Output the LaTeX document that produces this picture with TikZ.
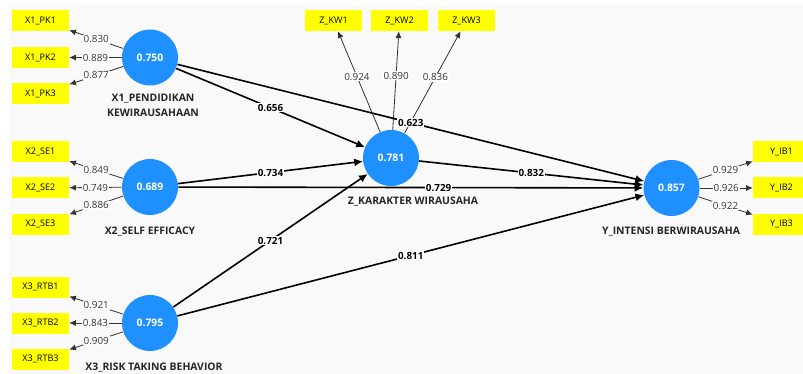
\documentclass[tikz,border=0pt]{standalone}
\usepackage{fontspec}
\setmainfont{Open Sans}
\usetikzlibrary{arrows.meta}
\definecolor{lvblue}{RGB}{30,144,255}
\definecolor{indyellow}{RGB}{255,255,0}
\definecolor{bggray}{RGB}{249,249,249}
\begin{document}
\begin{tikzpicture}[x=0.75pt,y=-0.75pt,
 latent/.style={circle,fill=lvblue,minimum size=42pt,inner sep=0pt,text=white,font=\fontsize{7.8}{8}\selectfont\bfseries},
 indbox/.style={rectangle,fill=indyellow,minimum width=42.75pt,minimum height=15.75pt,inner sep=0pt,font=\fontsize{6.8}{7}\selectfont},
 lvname/.style={font=\fontsize{7.8}{11.5}\selectfont\bfseries,align=center,text=black!85},
 loadarrow/.style={draw=black!80,line width=0.6pt,-{Latex[length=5pt,width=4.5pt]}},
 patharrow/.style={draw=black,line width=1.2pt,-{Latex[length=6.5pt,width=6pt]}},
 lload/.style={fill=white,inner sep=0.6pt,font=\fontsize{7.4}{8}\selectfont,text=black!80},
 lpath/.style={fill=white,inner sep=0.6pt,font=\fontsize{7.4}{8}\selectfont\bfseries}
]
\clip (0,0) rectangle (803,374);
\useasboundingbox (0,0) rectangle (803,374);
\fill[white] (0,0) rectangle (803,374);
\fill[bggray] (9,5) rectangle (803,374);

% latent variables
\node[latent] (x1) at (150,57.5) {0.750};
\node[latent] (x2) at (150,187) {0.689};
\node[latent] (x3) at (150,323) {0.795};
\node[latent] (z) at (391,158) {0.781};
\node[latent] (y) at (671.5,188) {0.857};

\node[lvname] (x1n) at (153,105.5) {X1\_PENDIDIKAN\\KEWIRAUSAHAAN};
\node[lvname] (x2n) at (150,232) {X2\_SELF EFFICACY};
\node[lvname] (x3n) at (154,368) {X3\_RISK TAKING BEHAVIOR};
\node[lvname] (zn) at (413,202) {Z\_KARAKTER WIRAUSAHA};
\node[lvname] (yn) at (671,232) {Y\_INTENSI BERWIRAUSAHA};

% indicators
\node[indbox] (pk1) at (40.5,20.5) {X1\_PK1};
\node[indbox] (pk2) at (40.5,57.5) {X1\_PK2};
\node[indbox] (pk3) at (40.5,94) {X1\_PK3};
\node[indbox] (se1) at (40.5,152) {X2\_SE1};
\node[indbox] (se2) at (40.5,188) {X2\_SE2};
\node[indbox] (se3) at (40.5,224) {X2\_SE3};
\node[indbox] (rtb1) at (40.5,287) {X3\_RTB1};
\node[indbox] (rtb2) at (40.5,323) {X3\_RTB2};
\node[indbox] (rtb3) at (40.5,359) {X3\_RTB3};
\node[indbox] (kw1) at (333.5,20.5) {Z\_KW1};
\node[indbox] (kw2) at (399.5,20.5) {Z\_KW2};
\node[indbox] (kw3) at (466.5,20.5) {Z\_KW3};
\node[indbox] (ib1) at (781.5,152) {Y\_IB1};
\node[indbox] (ib2) at (781.5,188) {Y\_IB2};
\node[indbox] (ib3) at (781.5,224) {Y\_IB3};

% outer loadings
\draw[loadarrow] (x1) -- node[lload,pos=0.5] {0.830} (pk1);
\draw[loadarrow] (x1) -- node[lload,pos=0.5] {0.889} (pk2);
\draw[loadarrow] (x1) -- node[lload,pos=0.5] {0.877} (pk3);
\draw[loadarrow] (x2) -- node[lload,pos=0.5] {0.849} (se1);
\draw[loadarrow] (x2) -- node[lload,pos=0.5] {0.749} (se2);
\draw[loadarrow] (x2) -- node[lload,pos=0.5] {0.886} (se3);
\draw[loadarrow] (x3) -- node[lload,pos=0.5] {0.921} (rtb1);
\draw[loadarrow] (x3) -- node[lload,pos=0.5] {0.843} (rtb2);
\draw[loadarrow] (x3) -- node[lload,pos=0.5] {0.909} (rtb3);
\draw[loadarrow] (z) -- node[lload,pos=0.55] {0.924} (kw1);
\draw[loadarrow] (z) -- node[lload,pos=0.55] {0.890} (kw2);
\draw[loadarrow] (z) -- node[lload,pos=0.55] {0.836} (kw3);
\draw[loadarrow] (y) -- node[lload,pos=0.5] {0.929} (ib1);
\draw[loadarrow] (y) -- node[lload,pos=0.5] {0.926} (ib2);
\draw[loadarrow] (y) -- node[lload,pos=0.5] {0.922} (ib3);

% structural paths
\draw[patharrow] (x1) -- node[lpath,pos=0.5] {0.656} (z);
\draw[patharrow] (x1) -- node[lpath,pos=0.5] {0.623} (y);
\draw[patharrow] (x2) -- node[lpath,pos=0.5] {0.734} (z);
\draw[patharrow] (x2) -- node[lpath,pos=0.56] {0.729} (y);
\draw[patharrow] (x3) -- node[lpath,pos=0.5] {0.721} (z);
\draw[patharrow] (x3) -- node[lpath,pos=0.5] {0.811} (y);
\draw[patharrow] (z) -- node[lpath,pos=0.5] {0.832} (y);
\end{tikzpicture}
\end{document}
